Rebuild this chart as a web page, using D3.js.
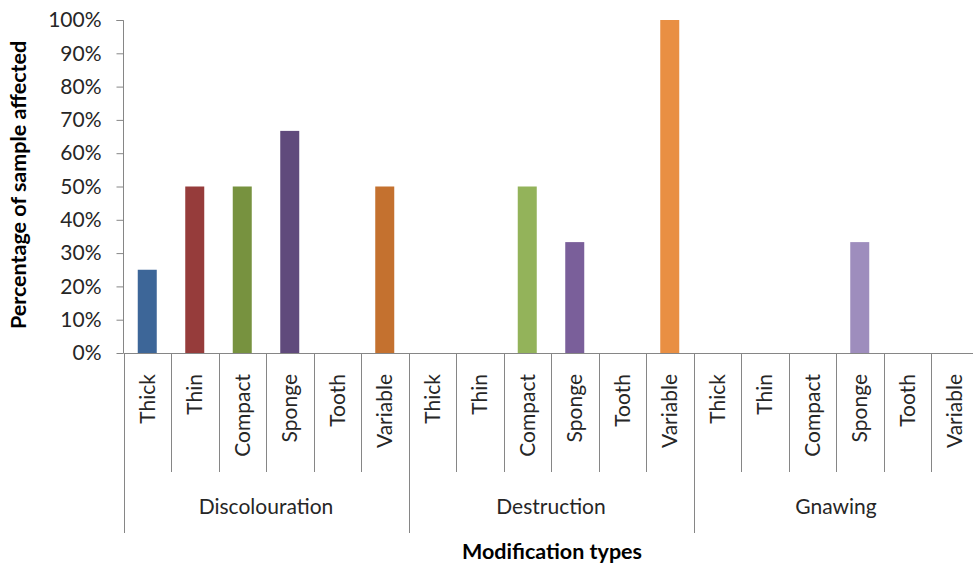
<!DOCTYPE html>
<html>
<head>
<meta charset="utf-8">
<script src="https://cdn.jsdelivr.net/npm/d3@7"></script>
<style>
  html, body { margin: 0; padding: 0; background: #fff; }
  svg { display: block; font-family: Lato, "Open Sans", sans-serif; }
</style>
</head>
<body>
<svg id="chart" width="973" height="567"></svg>
<script>
// Modification types and the bone categories inside each
const groups = ["Discolouration", "Destruction", "Gnawing"];
const boneTypes = ["Thick", "Thin", "Compact", "Sponge", "Tooth", "Variable"];

// Share of the sample affected, one array per modification type (same order as boneTypes)
const discolourationValues = [0.25, 0.50, 0.50, 0.667, 0, 0.50];
const destructionValues    = [0, 0, 0.50, 0.333, 0, 1.00];
const gnawingValues        = [0, 0, 0, 0.333, 0, 0];

const yTicks = [0, 0.1, 0.2, 0.3, 0.4, 0.5, 0.6, 0.7, 0.8, 0.9, 1.0];

// Bar fills by group and bone type
const discolourationColors = ["#3d6698", "#963c3b", "#77923f", "#604a7c", "#2f5c8f", "#c4712f"];
const destructionColors    = ["#4f81bd", "#c0504d", "#93b35a", "#7a5f9a", "#4bacc6", "#e98f43"];
const gnawingColors        = ["#95b3d7", "#d99694", "#c3d69b", "#9e8dbd", "#93cddd", "#fac090"];

const groupValues = [discolourationValues, destructionValues, gnawingValues];
const groupColors = [discolourationColors, destructionColors, gnawingColors];

const rows = [];
groups.forEach((g, gi) => {
  boneTypes.forEach((b, bi) => {
    rows.push({ key: g + "|" + b, group: g, gi, bone: b, bi,
                value: groupValues[gi][bi], color: groupColors[gi][bi] });
  });
});

const svg = d3.select("#chart");
const plotLeft = 123.5, plotRight = 978.5, plotTop = 20, plotBottom = 353;
const axisColor = "#868686";
const textColor = "#262626";
const labelSize = "21px";

const x = d3.scaleBand()
  .domain(rows.map(d => d.key))
  .range([plotLeft, plotRight])
  .paddingInner(0.6)
  .paddingOuter(0.3);
const step = x.step();

const y = d3.scaleLinear().domain([0, 1]).range([plotBottom, plotTop]);

// Y axis
const yAxis = d3.axisLeft(y)
  .tickValues(yTicks)
  .tickFormat(d3.format(".0%"))
  .tickSize(7)
  .tickPadding(15);

const yg = svg.append("g")
  .attr("transform", `translate(${plotLeft},0)`)
  .call(yAxis);
yg.select(".domain").attr("stroke", axisColor).attr("d", `M-7,${plotTop + 0.5}H0V${plotBottom}`);
yg.selectAll(".tick line").attr("stroke", axisColor);
yg.selectAll(".tick text")
  .attr("fill", textColor)
  .style("font-size", labelSize)
  .style("font-family", "Lato, sans-serif");

// Bars
svg.append("g").selectAll("rect")
  .data(rows.filter(d => d.value > 0))
  .join("rect")
  .attr("x", d => x(d.key))
  .attr("width", x.bandwidth())
  .attr("y", d => y(d.value))
  .attr("height", d => y(0) - y(d.value))
  .attr("fill", d => d.color);

// Category axis baseline
svg.append("line")
  .attr("x1", plotLeft).attr("x2", plotRight)
  .attr("y1", plotBottom + 0.5).attr("y2", plotBottom + 0.5)
  .attr("stroke", axisColor);

// Dividers between categories; group boundaries run longer
const boundaries = d3.range(rows.length + 1);
svg.append("g").selectAll("line")
  .data(boundaries)
  .join("line")
  .attr("x1", i => Math.round(plotLeft + i * step) + 0.5)
  .attr("x2", i => Math.round(plotLeft + i * step) + 0.5)
  .attr("y1", plotBottom)
  .attr("y2", i => (i % boneTypes.length === 0) ? 533 : 472)
  .attr("stroke", axisColor);

// Bone type labels, rotated
svg.append("g").selectAll("text")
  .data(rows)
  .join("text")
  .attr("transform", d => `translate(${x(d.key) + x.bandwidth() / 2},374) rotate(-90)`)
  .attr("text-anchor", "end")
  .attr("dy", "0.35em")
  .attr("fill", textColor)
  .style("font-size", labelSize)
  .text(d => d.bone);

// Group labels
svg.append("g").selectAll("text")
  .data(groups)
  .join("text")
  .attr("x", (g, gi) => plotLeft + (gi + 0.5) * boneTypes.length * step)
  .attr("y", 507)
  .attr("dy", "0.35em")
  .attr("text-anchor", "middle")
  .attr("fill", textColor)
  .style("font-size", labelSize)
  .text(g => g);

// Axis titles
svg.append("text")
  .attr("transform", "translate(18,185) rotate(-90)")
  .attr("text-anchor", "middle")
  .attr("dy", "0.35em")
  .attr("fill", "#000")
  .style("font-size", "21.5px")
  .style("font-weight", "bold")
  .text("Percentage of sample affected");

svg.append("text")
  .attr("x", 552)
  .attr("y", 551)
  .attr("dy", "0.35em")
  .attr("text-anchor", "middle")
  .attr("fill", "#000")
  .style("font-size", "21.5px")
  .style("font-weight", "bold")
  .text("Modification types");
</script>
</body>
</html>
